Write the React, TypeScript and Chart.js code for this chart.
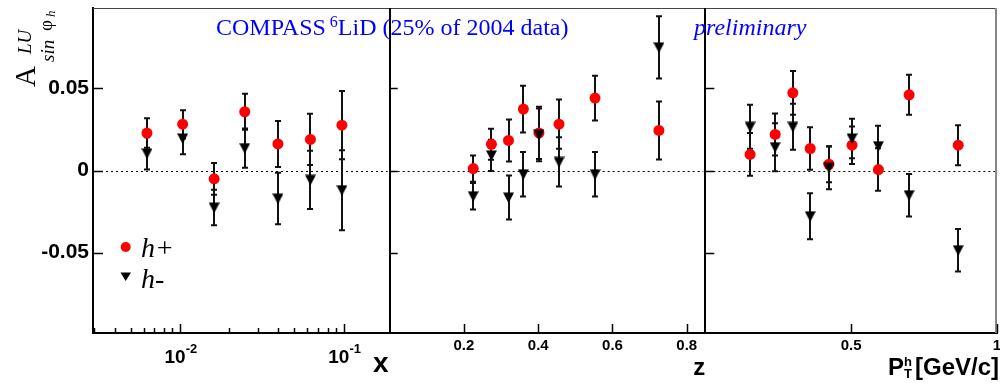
import React, { useEffect, useRef } from 'react';
import { Chart, registerables } from 'chart.js';

Chart.register(...registerables);

// ---------------- data ----------------
// panel 1 : x (Bjorken)
const X_BINS = [0.0063, 0.0104, 0.0162, 0.0249, 0.0397, 0.0627, 0.0976];
const H_PLUS_X = [0.0228, 0.0282, -0.0051, 0.0358, 0.0162, 0.0189, 0.0276];
const H_PLUS_X_ERR = [0.009, 0.0085, 0.0096, 0.011, 0.014, 0.0156, 0.0208];
const H_MINUS_X = [0.0104, 0.0195, -0.0226, 0.0136, -0.0171, -0.0057, -0.012];
const H_MINUS_X_ERR = [0.0098, 0.0096, 0.0108, 0.012, 0.0157, 0.0177, 0.0244];

// panel 2 : z
const Z_BINS = [0.225, 0.274, 0.32, 0.36, 0.402, 0.456, 0.553, 0.725];
const H_PLUS_Z = [0.0012, 0.016, 0.0183, 0.0374, 0.0229, 0.0282, 0.0441, 0.0244];
const H_PLUS_Z_ERR = [0.008, 0.0094, 0.0128, 0.0142, 0.0159, 0.015, 0.0136, 0.0177];
const H_MINUS_Z = [-0.0157, 0.0092, -0.0165, -0.0023, 0.0217, 0.0052, -0.0023, 0.075];
const H_MINUS_Z_ERR = [0.0081, 0.0095, 0.0134, 0.0136, 0.016, 0.015, 0.0136, 0.019];

// panel 3 : P_T^h
const PT_BINS = [0.1535, 0.2395, 0.3, 0.3597, 0.4238, 0.503, 0.5934, 0.6986, 0.867];
const H_PLUS_PT = [0.0098, 0.022, 0.0473, 0.0134, 0.0038, 0.0154, 0.0006, 0.0461, 0.0154];
const H_PLUS_PT_ERR = [0.013, 0.0128, 0.0133, 0.013, 0.011, 0.0114, 0.013, 0.0122, 0.0122];
const H_MINUS_PT = [0.0266, 0.0142, 0.0266, -0.0279, 0.0016, 0.0195, 0.0148, -0.0151, -0.0486];
const H_MINUS_PT_ERR = [0.0134, 0.0146, 0.014, 0.014, 0.013, 0.012, 0.0125, 0.013, 0.013];

// axes / ticks
const Y_RANGE = [-0.099, 0.099];
const Y_TICKS = [-0.05, 0, 0.05];
const Y_TICK_LABELS = ['-0.05', '0', '0.05'];
const X_RANGE = [0.00295, 0.191];
const X_LOG_TICKS = [0.003, 0.004, 0.005, 0.006, 0.007, 0.008, 0.009, 0.01, 0.02, 0.03, 0.04, 0.05, 0.06, 0.07, 0.08, 0.09, 0.1];
const X_LOG_LABEL_VALUES = [0.01, 0.1];
const X_LOG_LABEL_EXPONENTS = ['-2', '-1'];
const Z_RANGE = [0, 0.85];
const Z_TICKS = [0.2, 0.4, 0.6, 0.8];
const Z_TICK_LABELS = ['0.2', '0.4', '0.6', '0.8'];
const PT_RANGE = [0, 1];
const PT_TICKS = [0.5, 1];
const PT_TICK_LABELS = ['0.5', '1'];

const SERIES_LABELS = ['h+', 'h-'];
const TITLE_PARTS = ['COMPASS ', '6', 'LiD (25% of 2004 data)'];
const PRELIM = 'preliminary';

const SANS = '"Liberation Sans", Arial, Helvetica, sans-serif';
const SERIF = '"Liberation Serif", "Times New Roman", serif';

function makeTriangle(): HTMLCanvasElement {
  const c = document.createElement('canvas');
  c.width = 11;
  c.height = 11;
  const g = c.getContext('2d')!;
  g.fillStyle = '#000';
  g.beginPath();
  g.moveTo(0, 0.5);
  g.lineTo(11, 0.5);
  g.lineTo(5.5, 11);
  g.closePath();
  g.fill();
  return c;
}

const decoPlugin = {
  id: 'deco',
  beforeDatasetsDraw(chart: any) {
    const ctx = chart.ctx;
    const y = chart.scales.y;
    const y0 = Math.round(y.getPixelForValue(0)) + 0.5;
    // dotted zero lines
    ['x1', 'x2', 'x3'].forEach((id) => {
      const s = chart.scales[id];
      ctx.save();
      ctx.setLineDash([2, 3]);
      ctx.lineWidth = 1;
      ctx.strokeStyle = '#000';
      ctx.beginPath();
      ctx.moveTo(s.left + 3, y0);
      ctx.lineTo(s.right - 2, y0);
      ctx.stroke();
      ctx.restore();
    });
    // error bars
    chart.data.datasets.forEach((ds: any) => {
      const xs = chart.scales[ds.xAxisID];
      ctx.save();
      ctx.strokeStyle = '#111';
      ctx.lineWidth = 2;
      ds.data.forEach((p: any) => {
        const px = Math.round(xs.getPixelForValue(p.x));
        const t = y.getPixelForValue(p.y + p.e);
        const b = y.getPixelForValue(p.y - p.e);
        ctx.beginPath();
        ctx.moveTo(px, t);
        ctx.lineTo(px, b);
        ctx.moveTo(px - 3, t);
        ctx.lineTo(px + 3, t);
        ctx.moveTo(px - 3, b);
        ctx.lineTo(px + 3, b);
        ctx.stroke();
      });
      ctx.restore();
    });
  },
  afterDraw(chart: any) {
    const ctx = chart.ctx;
    const area = chart.chartArea;
    const y = chart.scales.y;
    const x1 = chart.scales.x1;
    const x2 = chart.scales.x2;
    const x3 = chart.scales.x3;
    ctx.save();
    // frame
    ctx.strokeStyle = '#444';
    ctx.lineWidth = 1;
    ctx.beginPath();
    ctx.moveTo(area.left, area.top + 0.5);
    ctx.lineTo(area.right, area.top + 0.5);
    ctx.stroke();
    ctx.strokeStyle = '#888';
    ctx.lineWidth = 2;
    ctx.beginPath();
    ctx.moveTo(area.right - 1, area.top);
    ctx.lineTo(area.right - 1, area.bottom);
    ctx.stroke();
    ctx.strokeStyle = '#000';
    ctx.lineWidth = 2;
    [x2.left, x3.left].forEach((xx: number) => {
      ctx.beginPath();
      ctx.moveTo(Math.round(xx), area.top);
      ctx.lineTo(Math.round(xx), area.bottom);
      ctx.stroke();
    });
    // inner y ticks
    ctx.lineWidth = 1.5;
    [[x1, 10], [x2, 8], [x3, 9]].forEach(([s, len]: any) => {
      Y_TICKS.forEach((v) => {
        const py = Math.round(y.getPixelForValue(v)) + 0.5;
        ctx.beginPath();
        ctx.moveTo(s.left, py);
        ctx.lineTo(s.left + len, py);
        ctx.stroke();
      });
    });
    // inner x ticks
    const bottom = area.bottom;
    X_LOG_TICKS.forEach((v) => {
      const px = Math.round(x1.getPixelForValue(v)) + 0.5;
      const major = X_LOG_LABEL_VALUES.includes(v);
      ctx.beginPath();
      ctx.moveTo(px, bottom);
      ctx.lineTo(px, bottom - (major ? 9 : 5));
      ctx.stroke();
    });
    Z_TICKS.forEach((v) => {
      const px = Math.round(x2.getPixelForValue(v)) + 0.5;
      ctx.beginPath();
      ctx.moveTo(px, bottom);
      ctx.lineTo(px, bottom - 9);
      ctx.stroke();
    });
    PT_TICKS.forEach((v) => {
      const px = Math.round(x3.getPixelForValue(v)) + 0.5;
      ctx.beginPath();
      ctx.moveTo(px, bottom);
      ctx.lineTo(px, bottom - 9);
      ctx.stroke();
    });
    // log tick labels 10^-2, 10^-1
    ctx.fillStyle = '#000';
    ctx.textBaseline = 'alphabetic';
    ctx.textAlign = 'left';
    X_LOG_LABEL_VALUES.forEach((v, i) => {
      const px = x1.getPixelForValue(v);
      ctx.font = `bold 19px ${SANS}`;
      const w1 = ctx.measureText('10').width;
      ctx.font = `bold 13px ${SANS}`;
      const w2 = ctx.measureText(X_LOG_LABEL_EXPONENTS[i]).width;
      const start = px - (w1 + w2) / 2 + 1;
      ctx.font = `bold 19px ${SANS}`;
      ctx.fillText('10', start, 363);
      ctx.font = `bold 13px ${SANS}`;
      ctx.fillText(X_LOG_LABEL_EXPONENTS[i], start + w1, 353);
    });
    // axis titles
    ctx.font = `bold 28px ${SANS}`;
    ctx.textAlign = 'right';
    ctx.fillText('x', x1.right - 1, 372);
    ctx.font = `bold 24px ${SANS}`;
    ctx.fillText('z', x2.right, 375);
    ctx.textAlign = 'left';
    ctx.font = `bold 24px ${SANS}`;
    ctx.fillText('P', 888, 375);
    ctx.font = `bold 13px ${SANS}`;
    ctx.fillText('h', 904, 366);
    ctx.fillText('T', 904, 378);
    ctx.font = `bold 24px ${SANS}`;
    ctx.fillText('[GeV/c]', 915, 375);

    // title
    ctx.fillStyle = '#0000ff';
    ctx.font = `24px ${SERIF}`;
    let tx = 216;
    ctx.fillText(TITLE_PARTS[0], tx, 35);
    tx += ctx.measureText(TITLE_PARTS[0]).width - 2;
    ctx.font = `16px ${SERIF}`;
    ctx.fillText(TITLE_PARTS[1], tx, 27);
    tx += ctx.measureText(TITLE_PARTS[1]).width;
    ctx.font = `24px ${SERIF}`;
    ctx.fillText(TITLE_PARTS[2], tx, 35);
    ctx.font = `italic 24px ${SERIF}`;
    ctx.fillText(PRELIM, 694, 35);

    // y title  A^{LU}_{sin phi_h}
    ctx.fillStyle = '#000';
    ctx.save();
    ctx.translate(35, 87);
    ctx.rotate(-Math.PI / 2);
    ctx.font = `29px ${SERIF}`;
    ctx.fillText('A', 0, 0);
    ctx.font = `italic 19px ${SERIF}`;
    ctx.fillText('LU', 33, -4);
    ctx.fillText('sin', 25, 19);
    ctx.font = `19px ${SERIF}`;
    ctx.fillText('\u03C6', 56, 17);
    ctx.font = `italic 13px ${SERIF}`;
    ctx.fillText('h', 70, 20);
    ctx.restore();

    // legend
    ctx.fillStyle = '#ff0000';
    ctx.beginPath();
    ctx.arc(125.7, 247, 5, 0, Math.PI * 2);
    ctx.fill();
    ctx.fillStyle = '#000';
    ctx.beginPath();
    ctx.moveTo(120.5, 272.5);
    ctx.lineTo(131, 272.5);
    ctx.lineTo(125.7, 281);
    ctx.closePath();
    ctx.fill();
    ctx.font = `italic 28px ${SERIF}`;
    ctx.fillText(SERIES_LABELS[0], 141, 256.5);
    ctx.fillText(SERIES_LABELS[1], 141, 288);
    ctx.restore();
  },
};

function mk(xs: number[], ys: number[], es: number[]) {
  return xs.map((x, i) => ({ x, y: ys[i], e: es[i] }));
}

function fixX(s: any) {
  s.height = 59;
  s.paddingLeft = 0;
  s.paddingRight = 0;
  s.paddingTop = 0;
  s.paddingBottom = 0;
}

export default function App() {
  const ref = useRef<HTMLCanvasElement | null>(null);
  useEffect(() => {
    if (!ref.current) return;
    const tri = makeTriangle();
    const plus = (axis: string, data: any[]) => ({
      label: SERIES_LABELS[0],
      xAxisID: axis,
      yAxisID: 'y',
      data,
      order: 1,
      showLine: false,
      pointStyle: 'circle',
      pointRadius: 5.5,
      pointBackgroundColor: '#ff0000',
      pointBorderWidth: 0,
      pointBorderColor: '#ff0000',
    });
    const minus = (axis: string, data: any[]) => ({
      label: SERIES_LABELS[1],
      xAxisID: axis,
      yAxisID: 'y',
      data,
      order: 0,
      showLine: false,
      pointStyle: tri,
      pointRadius: 6,
      pointBackgroundColor: '#000',
      pointBorderWidth: 0,
    });
    const hiddenGrid = { display: false, drawTicks: false };
    const border = { display: true, color: '#000', width: 2 };
    const chart = new Chart(ref.current, {
      type: 'scatter',
      data: {
        datasets: [
          plus('x1', mk(X_BINS, H_PLUS_X, H_PLUS_X_ERR)),
          minus('x1', mk(X_BINS, H_MINUS_X, H_MINUS_X_ERR)),
          plus('x2', mk(Z_BINS, H_PLUS_Z, H_PLUS_Z_ERR)),
          minus('x2', mk(Z_BINS, H_MINUS_Z, H_MINUS_Z_ERR)),
          plus('x3', mk(PT_BINS, H_PLUS_PT, H_PLUS_PT_ERR)),
          minus('x3', mk(PT_BINS, H_MINUS_PT, H_MINUS_PT_ERR)),
        ] as any,
      },
      options: {
        animation: false,
        responsive: false,
        devicePixelRatio: 1,
        events: [],
        layout: { padding: { left: 0, right: 0, top: 8, bottom: 0 } },
        plugins: { legend: { display: false }, tooltip: { enabled: false } },
        scales: {
          x1: {
            type: 'logarithmic',
            position: 'bottom',
            stack: 'panels',
            stackWeight: 297,
            min: X_RANGE[0],
            max: X_RANGE[1],
            grid: hiddenGrid,
            border,
            ticks: { display: false },
            afterBuildTicks: (s: any) => {
              s.ticks = X_LOG_TICKS.map((v) => ({ value: v }));
            },
            afterFit: fixX,
          },
          x2: {
            type: 'linear',
            position: 'bottom',
            stack: 'panels',
            stackWeight: 316,
            min: Z_RANGE[0],
            max: Z_RANGE[1],
            grid: hiddenGrid,
            border,
            ticks: {
              color: '#000',
              font: { family: SANS, size: 15, weight: 'bold' },
              padding: 4,
              autoSkip: false,
              maxRotation: 0,
              callback: (_v: any, i: number) => Z_TICK_LABELS[i],
            },
            afterBuildTicks: (s: any) => {
              s.ticks = Z_TICKS.map((v) => ({ value: v }));
            },
            afterFit: fixX,
          },
          x3: {
            type: 'linear',
            position: 'bottom',
            stack: 'panels',
            stackWeight: 292,
            min: PT_RANGE[0],
            max: PT_RANGE[1],
            grid: hiddenGrid,
            border,
            ticks: {
              color: '#000',
              font: { family: SANS, size: 15, weight: 'bold' },
              padding: 4,
              autoSkip: false,
              maxRotation: 0,
              callback: (_v: any, i: number) => PT_TICK_LABELS[i],
            },
            afterBuildTicks: (s: any) => {
              s.ticks = PT_TICKS.map((v) => ({ value: v }));
            },
            afterFit: fixX,
          },
          y: {
            type: 'linear',
            position: 'left',
            min: Y_RANGE[0],
            max: Y_RANGE[1],
            grid: hiddenGrid,
            border,
            ticks: {
              color: '#000',
              font: { family: SANS, size: 21, weight: 'bold' },
              padding: 4,
              autoSkip: false,
              callback: (_v: any, i: number) => Y_TICK_LABELS[i],
            },
            afterBuildTicks: (s: any) => {
              s.ticks = Y_TICKS.map((v) => ({ value: v }));
            },
            afterFit: (s: any) => {
              s.width = 93;
              s.paddingTop = 0;
              s.paddingBottom = 0;
              s.paddingLeft = 0;
              s.paddingRight = 0;
            },
          },
        },
      } as any,
      plugins: [decoPlugin],
    });
    return () => chart.destroy();
  }, []);
  return (
    <div style={{ position: 'absolute', left: 0, top: 0, width: 1000, height: 392, background: '#fff', overflow: 'hidden' }}>
      <canvas ref={ref} width={1003} height={392} style={{ display: 'block', width: 1003, height: 392 }} />
    </div>
  );
}
